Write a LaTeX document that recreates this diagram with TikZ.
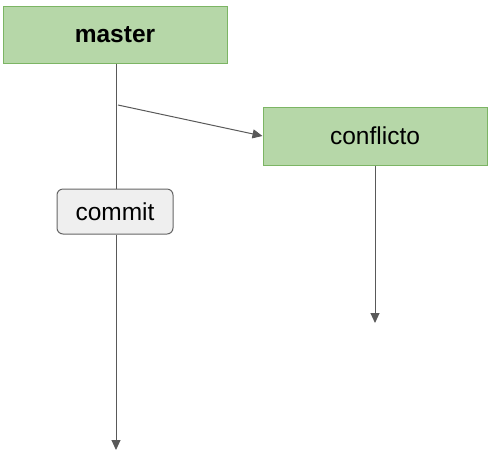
\documentclass[tikz,border=0pt]{standalone}
\usepackage{fontspec}
\setmainfont{Liberation Sans}
\usetikzlibrary{arrows.meta}
\definecolor{gfill}{HTML}{B6D7A8}
\definecolor{gdraw}{HTML}{7CB564}
\definecolor{cfill}{HTML}{EFEFEF}
\definecolor{cdraw}{HTML}{666666}
\definecolor{ln}{HTML}{595959}
\begin{document}
\begin{tikzpicture}[x=1pt,y=-1pt,
  greenbox/.style={draw=gdraw,fill=gfill,line width=1pt,inner sep=0pt,font=\fontsize{24.5}{28}\selectfont},
  commitbox/.style={draw=cdraw,fill=cfill,line width=1pt,rounded corners=6pt,inner sep=0pt,font=\fontsize{24.5}{28}\selectfont},
  conn/.style={draw=ln,line width=1pt,-{Triangle[length=10pt,width=9pt]}}]
\useasboundingbox (0,0) rectangle (489,451);
\node[greenbox,minimum width=224pt,minimum height=57pt] (master) at (115,34.5) {\textbf{master}};
\node[greenbox,minimum width=224pt,minimum height=58pt] (conf) at (375,136) {conflicto};
\coordinate (bend) at (118,105);
\coordinate (mend) at (116,450);
\coordinate (cend) at (375,323);
\node[commitbox,minimum width=116pt,minimum height=45pt] (commit) at (115,211.5) {commit};
\draw[draw=ln,line width=1pt] (master.south -| mend) -- (commit.north -| mend);
\draw[conn] (commit.south -| mend) -- (mend);
\draw[conn] (bend) -- (conf.west);
\draw[conn] (conf.south) -- (cend);
\end{tikzpicture}
\end{document}
